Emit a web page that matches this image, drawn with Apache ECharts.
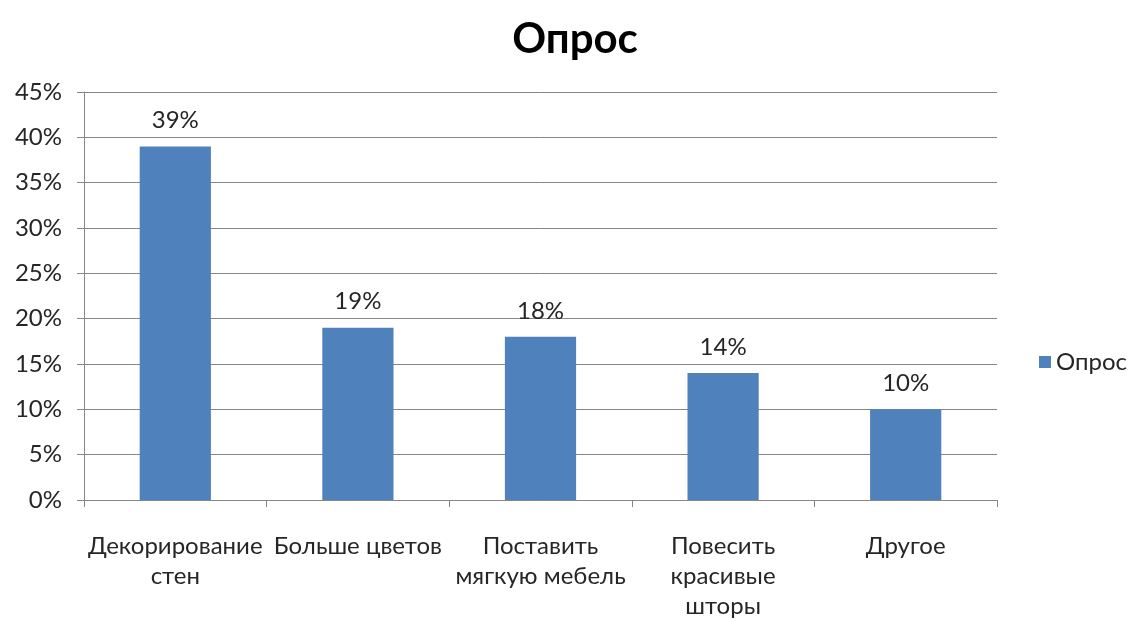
<!DOCTYPE html>
<html><head><meta charset="utf-8">
<script src="https://cdn.jsdelivr.net/npm/echarts@6/dist/echarts.min.js"></script>
<style>html,body{margin:0;padding:0;background:#fff}#c{width:1134px;height:621px}</style>
</head><body><div id="c"></div>
<script>
const categories = ["Декорирование\nстен", "Больше цветов", "Поставить\nмягкую мебель", "Повесить\nкрасивые\nшторы", "Другое"];
const values = [39, 19, 18, 14, 10];
const yTicks = {min: 0, max: 45, interval: 5};
const seriesName = "Опрос";

const F = "Lato, 'Noto Sans', sans-serif";
const chart = echarts.init(document.getElementById('c'));
chart.setOption({
  animation: false,
  title: {text: seriesName, left: 570, top: 13, textAlign: 'center',
    textStyle: {fontFamily: F, fontSize: 42, fontWeight: 'bold', color: '#000'}},
  legend: {right: 2, top: 345, itemWidth: 12, itemHeight: 12, icon: 'rect', itemGap: 6,
    textStyle: {fontFamily: F, fontSize: 24, color: '#262626'}},
  grid: {left: 84, right: 137, top: 92, bottom: 119, containLabel: false},
  xAxis: {type: 'category', data: categories,
    axisLine: {lineStyle: {color: '#868686', width: 1}},
    axisTick: {show: true, alignWithLabel: false, length: 7, lineStyle: {color: '#868686'}},
    axisLabel: {fontFamily: F, fontSize: 24, color: '#262626', margin: 31, lineHeight: 30, interval: 0}},
  yAxis: {type: 'value', min: yTicks.min, max: yTicks.max, interval: yTicks.interval,
    axisLine: {show: true, lineStyle: {color: '#868686'}},
    axisTick: {show: true, length: 7, lineStyle: {color: '#868686'}},
    splitLine: {lineStyle: {color: '#868686'}},
    axisLabel: {fontFamily: F, fontSize: 24, color: '#262626', formatter: '{value}%', margin: 22}},
  series: [{name: seriesName, type: 'bar', data: values, barWidth: '39%',
    itemStyle: {color: '#4F81BD'},
    label: {show: true, position: 'top', distance: 14, formatter: '{c}%',
      fontFamily: F, fontSize: 24, color: '#262626'}}]
});
</script></body></html>
